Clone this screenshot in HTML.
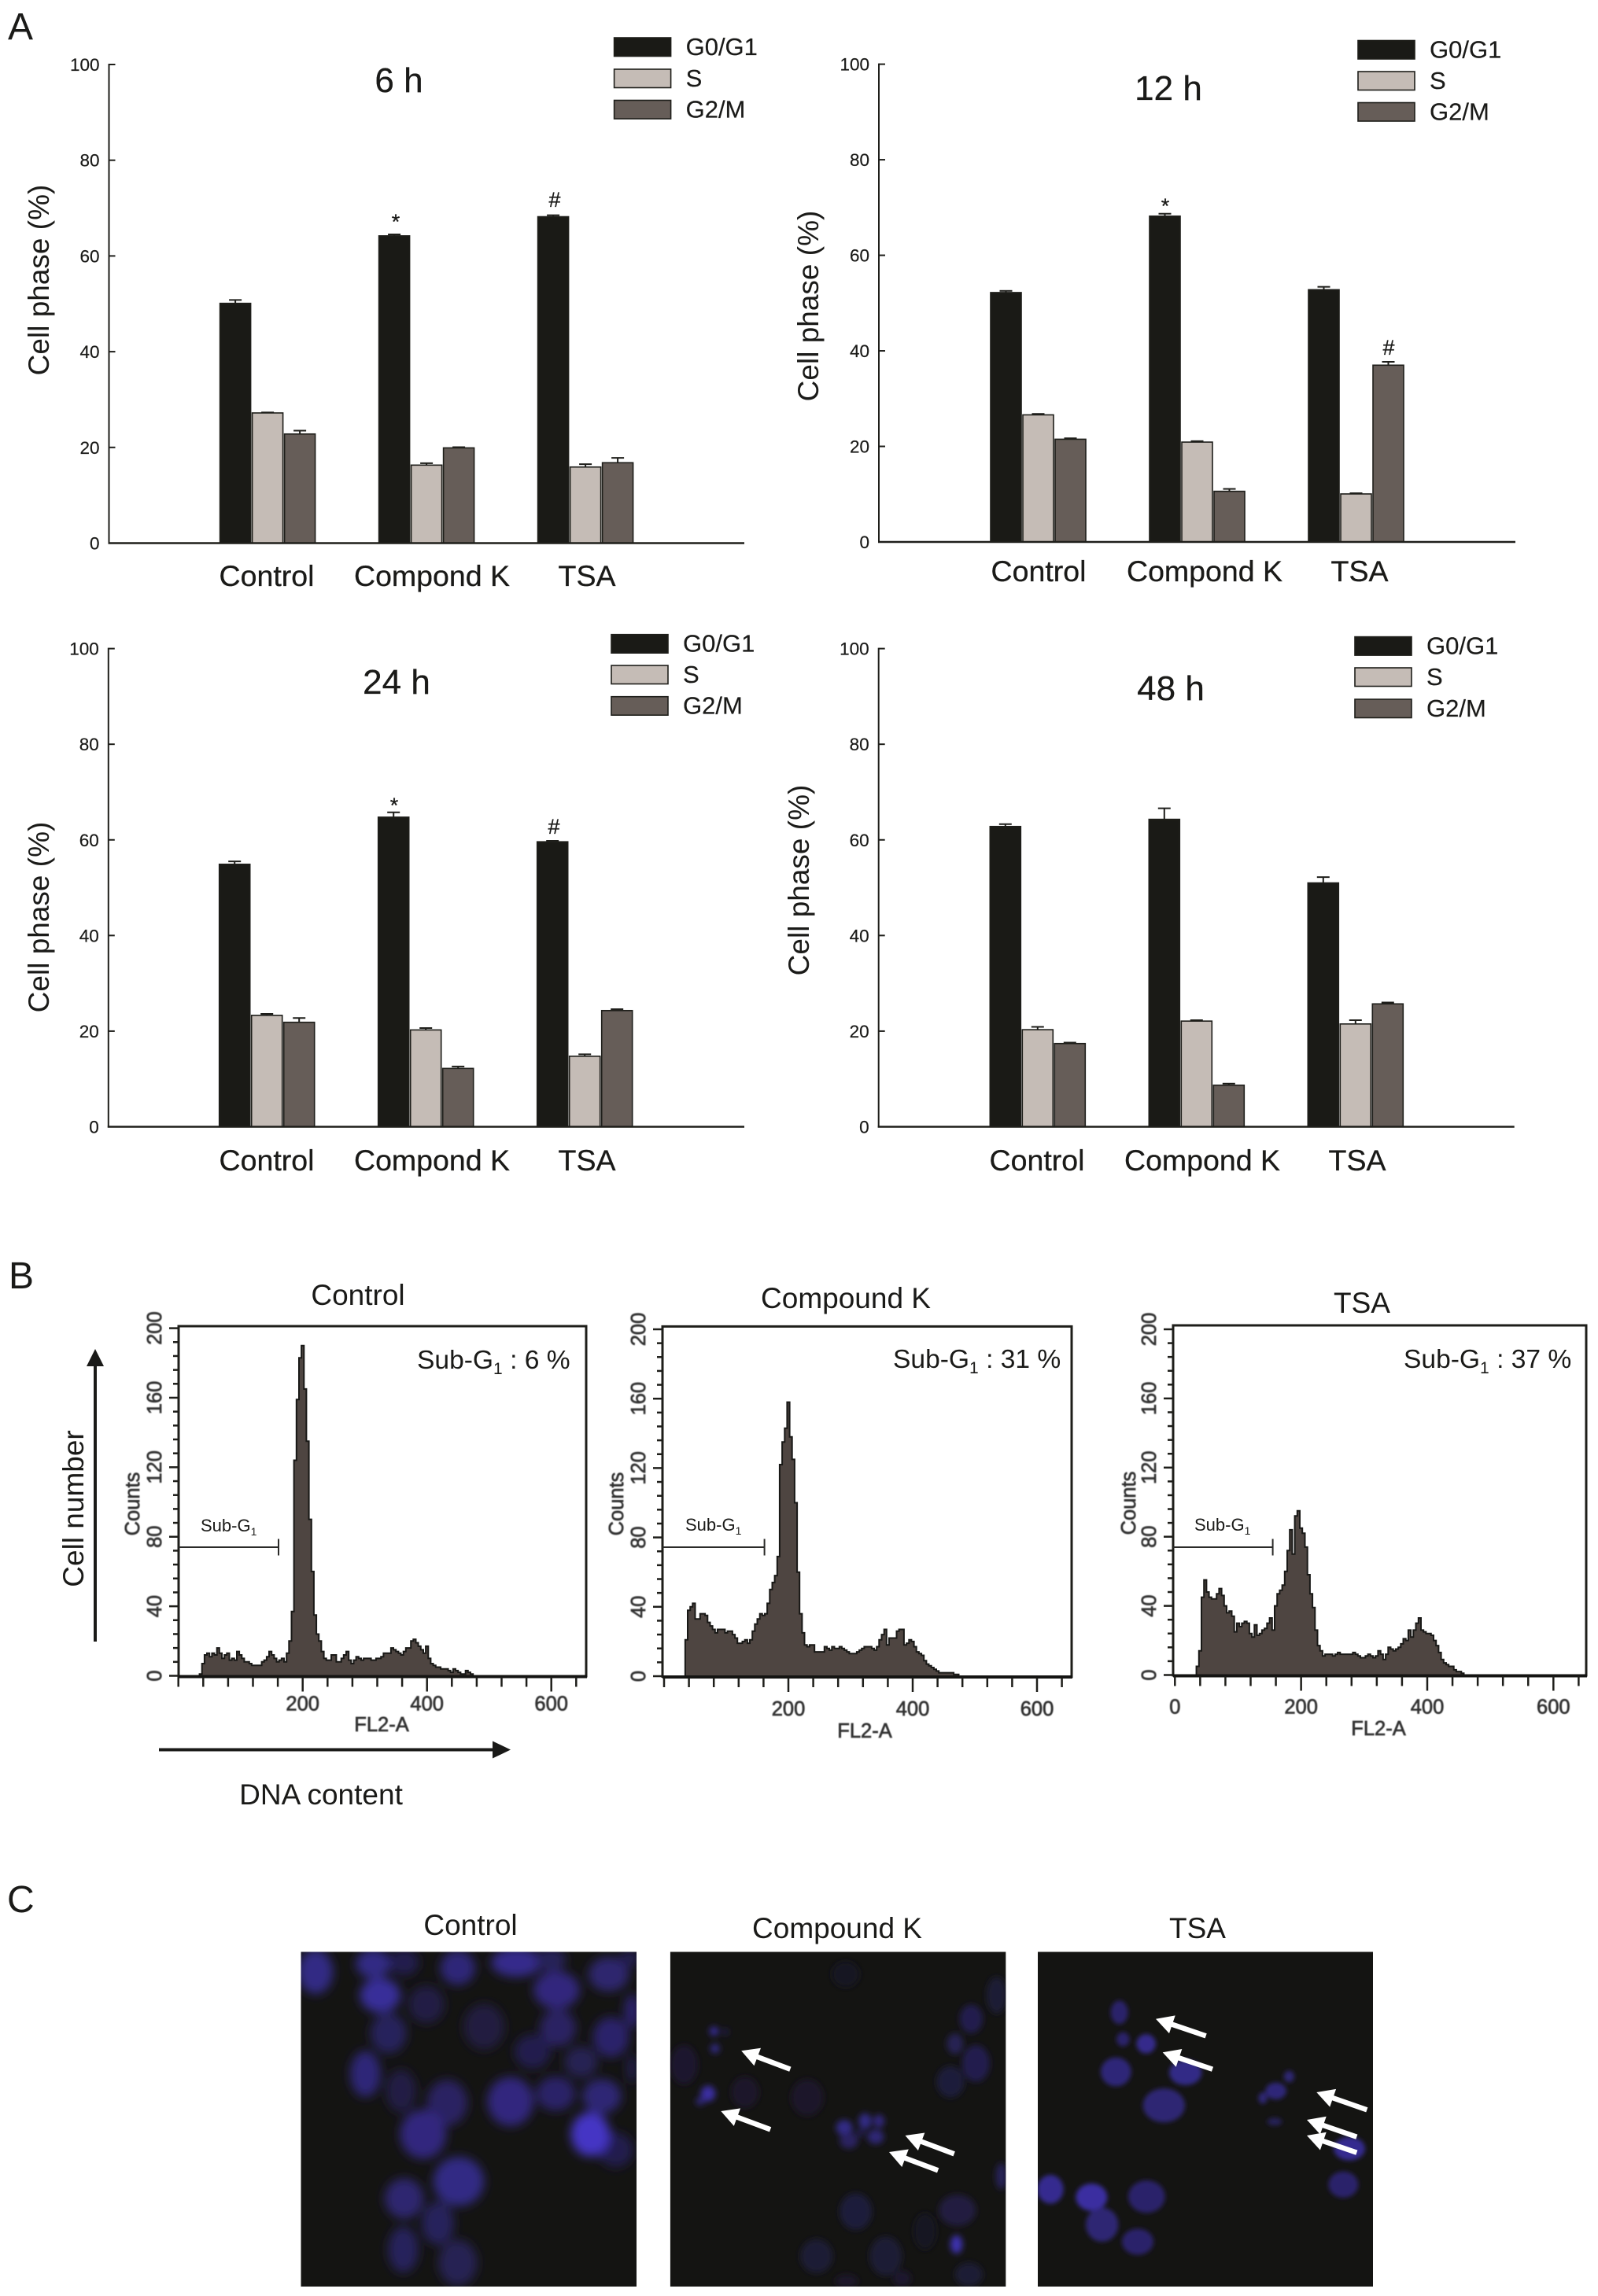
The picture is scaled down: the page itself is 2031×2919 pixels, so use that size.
<!DOCTYPE html>
<html>
<head>
<meta charset="utf-8">
<title>Cell cycle analysis figure</title>
<style>
html,body{margin:0;padding:0;background:#fff;}
svg{display:block;}
text{font-family:"Liberation Sans",sans-serif;fill:#1a1a18;}
.panel{font-size:48px;}
.ytitle{font-size:37px;text-anchor:middle;}
.title{font-size:44px;text-anchor:middle;stroke:#1a1a18;stroke-width:.3;}
.xl{font-size:37.5px;text-anchor:middle;stroke:#1a1a18;stroke-width:.3;}
.leg{font-size:31px;stroke:#1a1a18;stroke-width:.2;}
.tick{font-size:22.5px;text-anchor:end;stroke:#1a1a18;stroke-width:.2;}
.mark{font-size:27px;text-anchor:middle;stroke:#1a1a18;stroke-width:.3;}
.hd{font-size:37px;text-anchor:middle;}
.big{font-size:33.6px;}
.small{font-size:22px;}
.fc{font-size:25.5px;text-anchor:middle;fill:#333;stroke:#333;stroke-width:.7;filter:url(#soft);}
.axis-label{font-size:37px;}
</style>
</head>
<body>
<svg id="fig" xmlns="http://www.w3.org/2000/svg" width="2031" height="2919" viewBox="0 0 2031 2919">
<defs>
<filter id="soft" x="-10%" y="-10%" width="120%" height="120%"><feGaussianBlur stdDeviation="0.6"/></filter>
<filter id="blur1" filterUnits="userSpaceOnUse" x="300" y="2400" width="600" height="600"><feGaussianBlur stdDeviation="6.5"/></filter>
<filter id="blur2" filterUnits="userSpaceOnUse" x="780" y="2400" width="600" height="600"><feGaussianBlur stdDeviation="4"/></filter>
<filter id="blur3" filterUnits="userSpaceOnUse" x="1250" y="2400" width="600" height="600"><feGaussianBlur stdDeviation="3"/></filter>
</defs>

<text class="panel" x="10" y="50">A</text>
<text class="panel" x="11" y="1638">B</text>
<text class="panel" x="9" y="2431">C</text>

<!-- Panel A static labels -->
<text class="title" x="507" y="117">6 h</text>
<text class="title" x="1485" y="127">12 h</text>
<text class="title" x="504" y="882">24 h</text>
<text class="title" x="1488" y="890">48 h</text>

<text class="ytitle" transform="translate(62,356) rotate(-90)">Cell phase (%)</text>
<text class="ytitle" transform="translate(1040,389) rotate(-90)">Cell phase (%)</text>
<text class="ytitle" transform="translate(62,1166) rotate(-90)">Cell phase (%)</text>
<text class="ytitle" transform="translate(1028,1119) rotate(-90)">Cell phase (%)</text>

<text class="xl" x="339" y="745">Control</text>
<text class="xl" x="549" y="745">Compond K</text>
<text class="xl" x="746" y="745">TSA</text>
<text class="xl" x="1320" y="739">Control</text>
<text class="xl" x="1531" y="739">Compond K</text>
<text class="xl" x="1728" y="739">TSA</text>
<text class="xl" x="339" y="1488">Control</text>
<text class="xl" x="549" y="1488">Compond K</text>
<text class="xl" x="746" y="1488">TSA</text>
<text class="xl" x="1318" y="1488">Control</text>
<text class="xl" x="1528" y="1488">Compond K</text>
<text class="xl" x="1725" y="1488">TSA</text>

<text class="mark" x="503" y="291">*</text>
<text class="mark" x="705" y="263">#</text>
<text class="mark" x="1481" y="271">*</text>
<text class="mark" x="1765" y="451">#</text>
<text class="mark" x="501" y="1033">*</text>
<text class="mark" x="704" y="1060">#</text>

<!-- Panel B static labels -->
<text class="hd" x="455" y="1659">Control</text>
<text class="hd" x="1075" y="1663">Compound K</text>
<text class="hd" x="1731" y="1669">TSA</text>

<text class="big" x="530" y="1740">Sub-G<tspan font-size="21" dy="7">1</tspan><tspan dy="-7"> : 6 %</tspan></text>
<text class="big" x="1135" y="1739">Sub-G<tspan font-size="21" dy="7">1</tspan><tspan dy="-7"> : 31 %</tspan></text>
<text class="big" x="1784" y="1739">Sub-G<tspan font-size="21" dy="7">1</tspan><tspan dy="-7"> : 37 %</tspan></text>

<text class="small" x="255" y="1947">Sub-G<tspan font-size="14" dy="5">1</tspan></text>
<text class="small" x="871" y="1946">Sub-G<tspan font-size="14" dy="5">1</tspan></text>
<text class="small" x="1518" y="1946">Sub-G<tspan font-size="14" dy="5">1</tspan></text>

<text class="fc" x="485" y="2201">FL2-A</text>
<text class="fc" x="1099" y="2209">FL2-A</text>
<text class="fc" x="1752" y="2206">FL2-A</text>
<text class="fc" transform="translate(177,1912) rotate(-90)">Counts</text>
<text class="fc" transform="translate(792,1912) rotate(-90)">Counts</text>
<text class="fc" transform="translate(1443,1911) rotate(-90)">Counts</text>

<text class="axis-label" text-anchor="middle" transform="translate(106,1918) rotate(-90)">Cell number</text>
<line x1="121" y1="2087" x2="121" y2="1730" stroke="#1a1a18" stroke-width="4"/>
<polygon points="121,1715 110,1737 132,1737" fill="#1a1a18"/>
<line x1="202" y1="2224.5" x2="630" y2="2224.5" stroke="#1a1a18" stroke-width="4"/>
<polygon points="649,2224.5 626,2213.5 626,2235.5" fill="#1a1a18"/>
<text class="axis-label" text-anchor="middle" x="408" y="2294">DNA content</text>

<!-- Panel C static labels -->
<text class="hd" x="598" y="2460">Control</text>
<text class="hd" x="1064" y="2464">Compound K</text>
<text class="hd" x="1522" y="2464">TSA</text>

<g id="layer-a"></g>
<g id="layer-b"></g>
<g id="layer-c"></g>
</svg>

<script>
// ---- Panel A data ----
const phaseNames = ['G0/G1', 'S', 'G2/M'];
const yTickLabels = [0, 20, 40, 60, 80, 100];

const g0_6h = [50.1, 64.2, 68.2];
const s_6h = [27.2, 16.3, 15.9];
const g2_6h = [22.8, 19.9, 16.8];
const g0Err_6h = [0.7, 0.3, 0.3];
const sErr_6h = [0.1, 0.4, 0.6];
const g2Err_6h = [0.7, 0.15, 1.0];

const g0_12h = [52.2, 68.2, 52.8];
const s_12h = [26.6, 20.9, 10.05];
const g2_12h = [21.5, 10.6, 37.0];
const g0Err_12h = [0.35, 0.5, 0.6];
const sErr_12h = [0.2, 0.2, 0.15];
const g2Err_12h = [0.2, 0.5, 0.7];

const g0_24h = [54.9, 64.75, 59.6];
const s_24h = [23.3, 20.25, 14.75];
const g2_24h = [21.85, 12.2, 24.3];
const g0Err_24h = [0.6, 1.0, 0.2];
const sErr_24h = [0.3, 0.4, 0.4];
const g2Err_24h = [0.9, 0.4, 0.3];

const g0_48h = [62.8, 64.3, 51.0];
const s_48h = [20.3, 22.1, 21.5];
const g2_48h = [17.4, 8.7, 25.7];
const g0Err_48h = [0.5, 2.3, 1.2];
const sErr_48h = [0.6, 0.2, 0.8];
const g2Err_48h = [0.2, 0.3, 0.3];

// ---- Panel B data: counts per 4-unit FL2-A bin, first bin centred at 36 ----
const binStart = 36;
const binWidth = 4;
const countsControl = [1,7,12,13,11,13,12,16,13,10,12,13,9,10,9,14,12,10,8,8,7,6,6,6,6,8,9,11,14,12,10,8,9,10,8,13,20,37,124,159,183,190,165,135,90,60,35,24,20,14,10,9,9,12,12,8,8,10,12,14,9,7,9,11,10,9,10,10,10,9,9,10,10,11,13,13,13,16,15,14,13,12,14,16,16,20,21,19,17,15,13,17,10,7,6,5,5,4,4,4,3,2,4,3,2,1,1,3,2,1];
const countsCompoundK = [21,38,40,42,33,33,36,36,35,31,29,27,25,27,27,27,25,26,26,24,22,19,19,20,21,19,21,26,30,33,36,35,36,42,50,54,58,69,122,135,143,158,138,125,100,60,36,25,18,17,18,18,14,14,14,14,17,16,15,17,16,16,17,16,15,14,13,13,13,14,15,16,17,17,17,16,15,17,21,24,27,18,22,22,22,26,27,27,18,19,21,20,17,14,13,12,9,7,6,5,4,3,2,2,2,2,2,2,1,1];
const countsTSA = [5,14,45,55,48,45,44,44,47,50,46,40,36,37,34,25,30,28,30,31,30,24,22,29,23,24,26,27,30,33,26,40,47,49,52,60,72,84,70,92,95,85,82,74,58,47,39,26,17,14,11,12,12,12,11,12,13,12,12,12,12,12,13,12,11,10,10,11,12,11,10,11,14,12,9,12,16,15,14,15,16,18,21,20,26,22,26,30,33,26,25,24,24,23,20,17,13,9,7,6,5,5,3,2,2,1,0,0,0,0];
const countTicks = [0, 40, 80, 120, 160, 200];
const fl2Ticks = [200, 400, 600];

// ---- Helpers ----
const NS = 'http://www.w3.org/2000/svg';
function mk(tag, attrs, parent) {
  const el = document.createElementNS(NS, tag);
  for (const k in attrs) el.setAttribute(k, attrs[k]);
  parent.appendChild(el);
  return el;
}
const layerA = document.getElementById('layer-a');
const layerB = document.getElementById('layer-b');
const layerC = document.getElementById('layer-c');
const INK = '#1e1e1a';
const phaseFills = ['#1a1a16', '#c5bcb6', '#665d58'];
const phaseKeys = ['g0-g1', 's', 'g2-m'];

// ---- Bar charts ----
function drawBarChart(id, box, legend, series, errors) {
  const group = mk('g', {}, layerA);
  
  
  const yScale = v => box.y0 + (box.y100 - box.y0) * v / 100;
  const groupX = g => box.barStart + g * 202;
  const barX = (g, p) => groupX(g) + p * 41;
  const barW = 39;

  series.forEach((vals, p) => {
    vals.forEach((v, g) => {
      const x = barX(g, p);
      const top = yScale(v);
      const errTop = yScale(v + errors[p][g]);
      const stem = mk('line', {x1: x + barW / 2, x2: x + barW / 2, y1: top, y2: errTop, stroke: INK, 'stroke-width': 2}, group);
      
      
      const cap = mk('line', {x1: x + barW / 2 - 8, x2: x + barW / 2 + 8, y1: errTop, y2: errTop, stroke: INK, 'stroke-width': 2}, group);
      
      
      const bar = mk('rect', {x: x, y: top, width: barW, height: box.y0 - top, fill: phaseFills[p], stroke: INK, 'stroke-width': 1.6}, group);
      
      
    });
  });

  const yAxis = mk('line', {x1: box.left, x2: box.left, y1: box.y100 - 1, y2: box.y0 + 1, stroke: INK, 'stroke-width': 2}, group);
  
  
  const xAxis = mk('line', {x1: box.left - 1, x2: box.right, y1: box.y0, y2: box.y0, stroke: INK, 'stroke-width': 2.5}, group);
  
  

  yTickLabels.forEach(t => {
    const y = yScale(t);
    const tick = mk('line', {x1: box.left, x2: box.left + 8, y1: y, y2: y, stroke: INK, 'stroke-width': 2}, group);
    
    
    const label = mk('text', {x: box.left - 12, y: y + 8, class: 'tick'}, group);
    
    
    label.textContent = String(t);
  });

  phaseNames.forEach((name, p) => {
    const top = legend.tops[p];
    const swatch = mk('rect', {x: legend.x, y: top, width: 72, height: 23.5, fill: phaseFills[p], stroke: INK, 'stroke-width': 1.6}, group);
    
    
    const label = mk('text', {x: legend.x + 91, y: top + 22, class: 'leg'}, group);
    
    
    label.textContent = name;
  });
}

drawBarChart('6h', {left: 138.5, right: 946, y100: 82, y0: 690.5, barStart: 279.6},
  {x: 780.6, tops: [48, 88, 127.5]}, [g0_6h, s_6h, g2_6h], [g0Err_6h, sErr_6h, g2Err_6h]);
drawBarChart('12h', {left: 1117, right: 1926, y100: 81.6, y0: 689, barStart: 1259},
  {x: 1726, tops: [51.5, 91, 130.5]}, [g0_12h, s_12h, g2_12h], [g0Err_12h, sErr_12h, g2Err_12h]);
drawBarChart('24h', {left: 137.8, right: 946, y100: 824.6, y0: 1432.5, barStart: 278.7},
  {x: 777, tops: [806.7, 846, 885.7]}, [g0_24h, s_24h, g2_24h], [g0Err_24h, sErr_24h, g2Err_24h]);
drawBarChart('48h', {left: 1116.7, right: 1924.7, y100: 824.6, y0: 1432.5, barStart: 1258.3},
  {x: 1722, tops: [809.6, 849, 889]}, [g0_48h, s_48h, g2_48h], [g0Err_48h, sErr_48h, g2Err_48h]);

// ---- Histograms ----
function drawHistogram(id, box, counts, labels) {
  const group = mk('g', {}, layerB);
  
  
  const xScale = u => box.x0 + box.pxPerUnit * u;
  const yScale = c => box.base + (box.y200 - box.base) * c / 200;
  const maxUnit = (box.right - box.x0) / box.pxPerUnit;

  let d = 'M' + xScale(binStart - binWidth / 2) + ' ' + box.base;
  counts.forEach((c, i) => {
    const u = binStart + i * binWidth;
    d += ' V' + yScale(c).toFixed(1) + ' H' + xScale(u + binWidth / 2).toFixed(1);
  });
  d += ' V' + box.base + ' Z';
  const hist = mk('path', {d: d, fill: '#4e4541', stroke: '#181816', 'stroke-width': 2, 'stroke-linejoin': 'miter'}, group);
  
  

  const frame = mk('path', {d: 'M' + box.left + ' ' + (box.base + 2) + ' V' + box.top + ' H' + box.right + ' V' + (box.base + 2), fill: 'none', stroke: INK, 'stroke-width': 3}, group);
  
  
  const base = mk('line', {x1: box.left, x2: box.right + 1, y1: box.base + 1, y2: box.base + 1, stroke: '#141412', 'stroke-width': 4}, group);
  
  

  for (let c = 0; c <= 200; c += 8) {
    const major = c % 40 === 0;
    const tick = mk('line', {x1: box.left - (major ? 12 : 7), x2: box.left, y1: yScale(c), y2: yScale(c), stroke: INK, 'stroke-width': 2.5}, group);
    
    
  }
  countTicks.forEach(c => {
    const label = mk('text', {class: 'fc', transform: 'translate(' + (box.left - 22) + ',' + yScale(c) + ') rotate(-90)'}, group);
    
    
    label.textContent = String(c);
  });
  for (let u = 0; u <= maxUnit; u += 40) {
    const major = u % 200 === 0 && u > 0;
    const tick = mk('line', {x1: xScale(u), x2: xScale(u), y1: box.base + 2, y2: box.base + (major ? 20 : 14), stroke: INK, 'stroke-width': 2.5}, group);
    
    
  }
  labels.forEach(u => {
    const label = mk('text', {class: 'fc', x: xScale(u), y: box.base + box.labelDy}, group);
    
    
    label.textContent = String(u);
  });

  const gate = mk('line', {x1: box.left, x2: box.gateEnd, y1: box.gateY, y2: box.gateY, stroke: '#2a2a28', 'stroke-width': 2}, group);
  
  
  const gateCap = mk('line', {x1: box.gateEnd, x2: box.gateEnd, y1: box.gateY - 10.5, y2: box.gateY + 10.5, stroke: '#2a2a28', 'stroke-width': 2}, group);
  
  
}

drawHistogram('control', {left: 227, right: 745, top: 1686, base: 2130.5, y200: 1688.6, x0: 226.7, pxPerUnit: 0.79, labelDy: 44, gateEnd: 354, gateY: 1967}, countsControl, fl2Ticks);
drawHistogram('compound-k', {left: 842, right: 1362, top: 1686.4, base: 2131, y200: 1690, x0: 844, pxPerUnit: 0.79, labelDy: 50, gateEnd: 971.6, gateY: 1967}, countsCompoundK, fl2Ticks);
drawHistogram('tsa', {left: 1491, right: 2016, top: 1685, base: 2129.5, y200: 1690, x0: 1493.3, pxPerUnit: 0.8017, labelDy: 49, gateEnd: 1617.6, gateY: 1967}, countsTSA, [0].concat(fl2Ticks));

// ---- Photos ----
const nucleiControl = [[70,260,38,85,.8],[195,230,38,55,.8],[262,225,32,50,.42],[378,245,38,66,.72],[505,225,55,55,.85],[580,215,33,44,.5],[705,270,44,66,.65],[750,210,22,33,.42],[210,350,44,66,.95],[310,385,39,72,.36],[592,330,50,72,.75],[755,410,17,66,.62],[228,495,39,77,.52],[435,470,44,88,.32],[595,475,39,72,.56],[710,510,39,77,.62],[540,565,39,66,.42],[178,650,33,88,.72],[645,605,36,60,.46],[255,715,33,82,.36],[755,630,11,55,.42],[355,760,44,88,.56],[492,755,50,94,.76],[590,725,42,66,.6],[690,735,42,66,.7],[303,880,50,94,.76],[720,940,38,66,.42],[665,880,42,84,1.25],[380,1060,55,94,.8],[262,1125,42,77,.66],[335,1220,35,82,.52],[260,1320,33,88,.52],[378,1370,42,88,.46]];
const nucleiCompoundK = [[1218,270,30,50,.12],[1545,350,22,70,.25],[1490,440,25,55,.42],[1455,535,18,40,.45],[1500,610,30,70,.42],[1445,680,30,60,.28],[868,615,30,75,.2],[933,487,10,18,.9],[958,490,6,15,.42],[935,553,10,18,.8],[920,725,16,30,1],[903,755,10,15,.7],[1000,720,30,60,.16],[1135,740,35,70,.16],[1215,855,18,30,.8],[1260,830,14,30,.8],[1290,830,12,25,.75],[1283,890,18,28,.7],[1225,905,20,30,.55],[1250,875,10,15,.42],[1555,1040,12,50,.5],[1240,1175,35,70,.28],[1460,1170,40,60,.32],[1458,1300,13,35,1.1],[1155,1345,35,65,.24],[1305,1345,35,75,.24],[1390,1250,25,70,.1],[1485,1415,30,45,.24],[1340,1430,20,30,.2],[1220,1440,25,25,.16]];
const nucleiTSA = [[428,415,33,45,.62],[442,518,25,27,.62],[530,535,37,37,.85],[415,642,58,55,.72],[680,645,62,48,.82],[598,770,80,65,.68],[1075,660,20,22,.68],[1025,715,40,32,.72],[975,742,17,22,.68],[1020,832,28,15,.5],[1305,935,60,45,.88],[1282,1072,57,50,.62],[165,1090,50,55,.88],[322,1120,60,52,1],[532,1118,70,62,.62],[362,1225,62,65,.68],[498,1290,60,50,.62]];

function nucleusColor(b) {
  const r = Math.round(20 + 38 * b);
  const g = Math.round(20 + 26 * b);
  const bl = Math.round(18 + 142 * b);
  return 'rgb(' + r + ',' + g + ',' + bl + ')';
}

function drawPhoto(id, box, nuclei, filterId, sx, sy, ox, oy) {
  const photo = mk('svg', {x: box.x, y: box.y, width: box.w, height: box.h, viewBox: box.x + ' ' + box.y + ' ' + box.w + ' ' + box.h}, layerC);
  
  
  const bg = mk('rect', {x: box.x, y: box.y, width: box.w, height: box.h, fill: '#141412'}, photo);
  
  
  const blurred = mk('g', {filter: 'url(#' + filterId + ')'}, photo);
  
  
  nuclei.forEach((n, i) => {
    const e = mk('ellipse', {cx: ox + n[0] / sx, cy: oy + n[1] / sy, rx: n[2] / sx, ry: n[3] / sy, fill: nucleusColor(n[4])}, blurred);
    
    
  });
}
drawPhoto('control', {x: 382.5, y: 2481.5, w: 426.5, h: 425.5}, nucleiControl, 'blur1', 1.704, 3, 360, 2420);
drawPhoto('compound-k', {x: 851.8, y: 2481.5, w: 426.6, h: 425.5}, nucleiCompoundK, 'blur2', 1.704, 3, 360, 2420);
drawPhoto('tsa', {x: 1319, y: 2481.5, w: 426, h: 425.5}, nucleiTSA, 'blur3', 3, 3, 1280, 2420);

function drawWhiteArrow(id, tx, ty, bx, by) {
  const dx = bx - tx, dy = by - ty;
  const len = Math.hypot(dx, dy);
  const ux = dx / len, uy = dy / len;
  const hx = tx + ux * 22, hy = ty + uy * 22;
  const nx = -uy, ny = ux;
  const shaft = mk('line', {x1: tx + ux * 15, y1: ty + uy * 15, x2: bx, y2: by, stroke: '#fff', 'stroke-width': 6.5}, layerC);
  
  
  const pts = [[tx, ty], [hx + nx * 12, hy + ny * 12], [hx - nx * 12, hy - ny * 12]].map(p => p[0].toFixed(1) + ',' + p[1].toFixed(1)).join(' ');
  const head = mk('polygon', {points: pts, fill: '#fff'}, layerC);
  
  
}
const pk = (x, y) => [x / 1.704 + 360, y / 3 + 2420];
const pt = (x, y) => [x / 3 + 1280, y / 3 + 2420];
drawWhiteArrow('compound-k-1', ...pk(992, 562), ...pk(1098, 632));
drawWhiteArrow('compound-k-2', ...pk(948, 792), ...pk(1055, 862));
drawWhiteArrow('compound-k-3', ...pk(1347, 885), ...pk(1453, 955));
drawWhiteArrow('compound-k-4', ...pk(1312, 948), ...pk(1418, 1018));
drawWhiteArrow('tsa-1', ...pt(567, 440), ...pt(758, 505));
drawWhiteArrow('tsa-2', ...pt(593, 568), ...pt(783, 632));
drawWhiteArrow('tsa-3', ...pt(1180, 720), ...pt(1372, 787));
drawWhiteArrow('tsa-4', ...pt(1143, 825), ...pt(1333, 890));
drawWhiteArrow('tsa-5', ...pt(1143, 885), ...pt(1333, 950));
</script>
</body>
</html>
